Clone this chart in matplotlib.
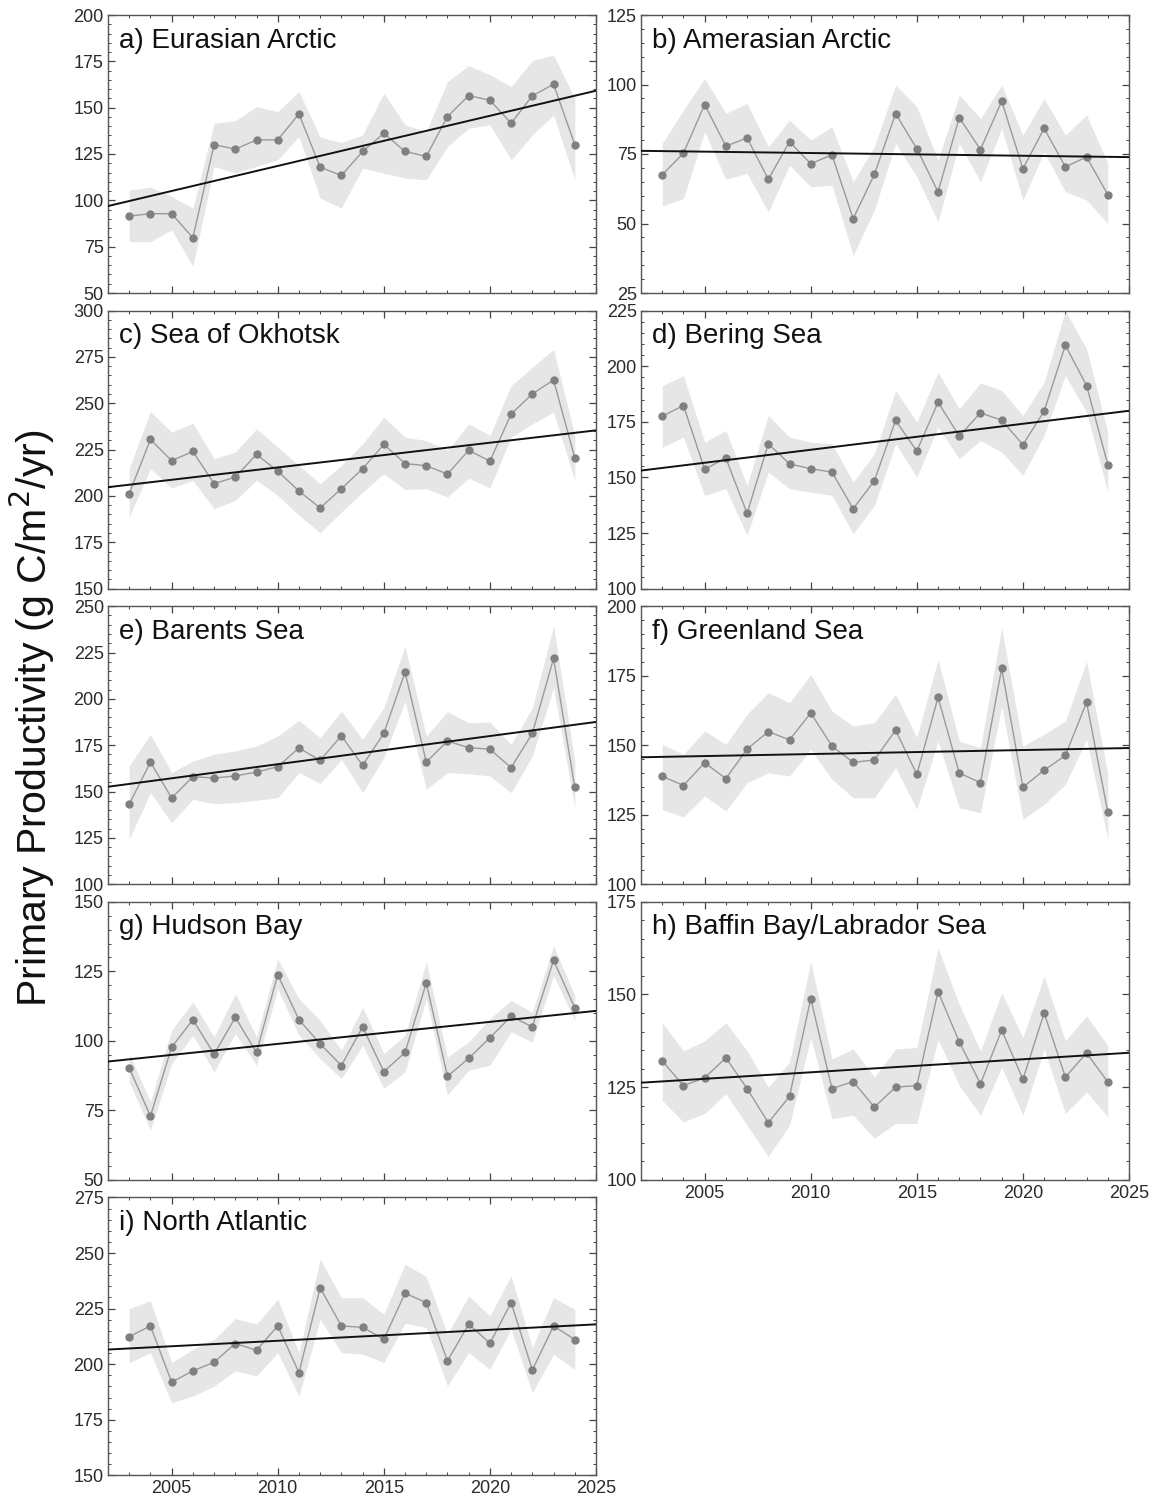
import numpy as np
import matplotlib
matplotlib.use('Agg')
import matplotlib.pyplot as plt
from matplotlib.ticker import MultipleLocator

plt.rcParams['font.family'] = ['Liberation Sans', 'DejaVu Sans']

years = [2003, 2004, 2005, 2006, 2007, 2008, 2009, 2010, 2011, 2012, 2013,
         2014, 2015, 2016, 2017, 2018, 2019, 2020, 2021, 2022, 2023, 2024]

# a) Eurasian Arctic
eur_pp = [91.5, 92.8, 92.8, 79.8, 130.1, 127.6, 132.6, 132.6, 146.6, 117.9, 113.4,
          126.4, 136.1, 126.4, 123.7, 145.2, 156.5, 154.0, 141.6, 156.4, 162.6, 130.1]
eur_hi = [105.5, 107.1, 102.1, 95.8, 141.6, 143.0, 150.6, 147.9, 158.7, 134.1, 131.2,
          135.3, 157.8, 140.7, 137.1, 164.1, 172.7, 167.7, 161.4, 175.4, 178.4, 155.1]
eur_lo = [77.7, 77.7, 84.1, 64.4, 118.3, 114.7, 118.3, 121.9, 134.4, 101.2, 95.8,
          117.4, 114.7, 112.0, 111.1, 129.0, 138.9, 140.7, 121.9, 135.3, 146.1, 111.1]

# b) Amerasian Arctic
ame_pp = [67.5, 75.3, 92.8, 77.8, 80.8, 65.9, 79.4, 71.5, 74.7, 51.7, 67.7,
          89.5, 76.9, 61.4, 88.1, 76.6, 94.0, 69.7, 84.2, 70.4, 73.9, 60.4]
ame_hi = [78.8, 90.8, 102.2, 89.6, 93.2, 77.6, 87.2, 80.0, 84.8, 65.0, 77.6,
          99.8, 92.0, 72.8, 96.2, 87.8, 99.8, 81.8, 95.0, 81.8, 89.0, 71.6]
ame_lo = [56.3, 59.0, 83.0, 65.9, 68.0, 54.2, 71.0, 63.2, 63.8, 38.6, 54.8,
          78.8, 66.8, 50.6, 78.8, 65.0, 84.2, 58.4, 75.8, 61.4, 58.4, 50.0]

# c) Sea of Okhotsk
okh_pp = [201.2, 230.5, 219.0, 224.0, 206.6, 210.2, 222.4, 213.4, 202.6, 193.5, 203.9,
          214.7, 227.8, 217.5, 216.3, 211.8, 224.6, 218.8, 244.1, 255.1, 262.5, 220.6]
okh_hi = [214.7, 245.6, 234.4, 239.3, 220.1, 223.7, 236.2, 226.4, 216.5, 206.6, 216.5,
          228.1, 242.5, 231.7, 229.9, 224.6, 238.9, 232.6, 259.6, 269.5, 279.0, 232.6]
okh_lo = [188.6, 214.7, 204.3, 208.4, 193.1, 197.6, 208.4, 200.3, 189.5, 180.2, 191.3,
          202.1, 212.0, 203.4, 203.9, 199.4, 209.6, 204.4, 231.7, 238.9, 245.2, 208.4]

# d) Bering Sea
ber_pp = [177.5, 182.3, 153.6, 158.7, 133.8, 165.1, 156.1, 153.9, 152.4, 135.9, 148.5,
          175.6, 161.8, 183.8, 168.6, 179.0, 175.7, 164.7, 179.8, 209.4, 191.3, 155.8]
ber_hi = [191.3, 195.8, 165.9, 171.1, 146.4, 177.8, 168.1, 165.9, 165.1, 147.9, 160.6,
          189.1, 174.9, 197.3, 180.8, 192.5, 189.1, 177.8, 192.8, 225.0, 207.8, 170.4]
ber_lo = [163.6, 168.1, 141.9, 144.9, 124.0, 152.4, 144.9, 143.4, 141.9, 124.7, 137.4,
          165.1, 150.1, 172.6, 158.4, 166.6, 161.4, 150.9, 168.9, 195.8, 179.3, 143.4]

# e) Barents Sea
bar_pp = [143.1, 165.9, 146.5, 158.0, 157.3, 158.4, 160.5, 163.4, 173.5, 166.8, 180.1,
          164.1, 181.4, 214.4, 165.9, 177.2, 173.7, 172.8, 162.9, 181.4, 221.8, 152.3]
bar_hi = [163.8, 180.8, 160.2, 166.5, 170.1, 171.9, 174.6, 179.9, 188.4, 179.0, 193.4,
          178.1, 195.2, 228.4, 179.9, 193.1, 187.1, 187.5, 175.5, 195.2, 239.2, 166.5]
bar_lo = [124.3, 149.4, 133.2, 145.8, 143.5, 144.0, 145.3, 146.7, 160.2, 154.3, 167.4,
          149.4, 168.3, 198.8, 151.2, 160.2, 159.6, 158.4, 149.4, 169.2, 206.0, 141.3]

# f) Greenland Sea
gre_pp = [138.8, 135.5, 143.7, 138.0, 148.6, 154.9, 151.9, 161.6, 149.7, 143.8, 144.7,
          155.4, 139.5, 167.2, 140.0, 136.5, 177.6, 134.9, 141.0, 146.3, 165.4, 126.0]
gre_hi = [150.3, 146.7, 155.1, 150.3, 161.1, 168.9, 165.3, 175.4, 162.3, 156.9, 158.1,
          168.3, 152.7, 180.8, 151.5, 149.1, 192.2, 149.7, 153.9, 158.7, 180.2, 139.5]
gre_lo = [126.9, 124.2, 131.7, 126.3, 136.5, 140.1, 138.9, 148.5, 137.7, 131.1, 131.1,
          141.9, 126.9, 151.5, 127.5, 125.7, 164.1, 123.4, 128.7, 135.9, 152.1, 116.2]

# g) Hudson Bay
hud_pp = [90.3, 72.9, 97.7, 107.6, 95.2, 108.4, 95.8, 123.8, 107.6, 98.9, 91.1,
          105.0, 88.9, 95.8, 120.8, 87.2, 93.7, 101.1, 108.8, 105.0, 129.0, 111.9]
hud_hi = [95.4, 78.1, 103.8, 113.9, 101.4, 116.9, 101.4, 129.4, 115.1, 107.3, 96.6,
          112.1, 95.4, 102.0, 128.3, 94.2, 99.6, 107.9, 114.5, 110.3, 134.2, 116.3]
hud_lo = [85.2, 67.9, 91.8, 102.0, 88.8, 102.6, 91.2, 118.7, 102.0, 93.6, 86.4,
          98.4, 82.9, 88.8, 115.1, 80.5, 89.4, 91.2, 103.2, 99.6, 123.5, 107.3]

# h) Baffin Bay/Labrador Sea
baf_pp = [132.1, 125.4, 127.5, 132.9, 124.6, 115.4, 122.5, 148.9, 124.6, 126.5, 119.6,
          125.0, 125.4, 150.8, 137.2, 125.9, 140.4, 127.1, 145.0, 127.7, 134.2, 126.4]
baf_hi = [142.4, 134.8, 137.5, 142.4, 134.8, 125.0, 131.7, 158.9, 132.6, 135.3, 127.7,
          135.3, 135.7, 162.5, 147.3, 134.8, 150.4, 138.4, 154.9, 137.5, 144.2, 136.2]
baf_lo = [121.4, 115.6, 117.9, 123.2, 114.7, 106.3, 114.7, 138.4, 116.5, 117.4, 111.2,
          115.2, 115.2, 137.9, 125.4, 117.4, 130.4, 117.4, 135.3, 117.9, 123.7, 117.0]

# i) North Atlantic
nat_pp = [212.4, 217.2, 191.9, 197.0, 200.9, 209.3, 206.3, 217.2, 196.2, 234.3, 217.2,
          216.6, 211.2, 231.9, 227.7, 201.5, 218.0, 209.4, 227.7, 197.4, 217.2, 211.1]
nat_hi = [225.0, 228.5, 200.7, 206.7, 211.2, 220.5, 218.0, 229.2, 205.2, 247.2, 229.9,
          229.9, 222.5, 245.0, 239.4, 213.5, 230.7, 221.7, 239.7, 207.5, 230.0, 224.7]
nat_lo = [200.7, 205.2, 182.7, 185.7, 190.2, 197.0, 194.7, 205.2, 185.7, 220.2, 205.2,
          204.5, 200.7, 218.4, 216.5, 190.2, 205.2, 197.7, 215.7, 187.2, 204.5, 197.7]

titles = ['a) Eurasian Arctic', 'b) Amerasian Arctic', 'c) Sea of Okhotsk',
          'd) Bering Sea', 'e) Barents Sea', 'f) Greenland Sea',
          'g) Hudson Bay', 'h) Baffin Bay/Labrador Sea', 'i) North Atlantic']
ylims = [(50, 200), (25, 125), (150, 300), (100, 225), (100, 250),
         (100, 200), (50, 150), (100, 175), (150, 275)]
series = [(eur_pp, eur_lo, eur_hi), (ame_pp, ame_lo, ame_hi), (okh_pp, okh_lo, okh_hi),
          (ber_pp, ber_lo, ber_hi), (bar_pp, bar_lo, bar_hi), (gre_pp, gre_lo, gre_hi),
          (hud_pp, hud_lo, hud_hi), (baf_pp, baf_lo, baf_hi), (nat_pp, nat_lo, nat_hi)]

fig = plt.figure(figsize=(11.52, 15), dpi=100)
W, H = 1152, 1500
col_x = [108, 641]
ax_w, ax_h = 488, 278
row_step = 295.6

for k in range(9):
    row, col = k // 2, k % 2
    top = 15 + row_step * row
    ax = fig.add_axes([col_x[col] / W, 1 - (top + ax_h) / H, ax_w / W, ax_h / H])
    pp, lo, hi = series[k]
    x = np.array(years)

    ax.fill_between(x, lo, hi, color='#e6e6e6', lw=0, zorder=1)
    ax.plot(x, pp, '-', color='#9a9a9a', lw=1.0, zorder=2)
    ax.plot(x, pp, 'o', color='#808080', ms=6, mew=0, zorder=3)

    # linear trend
    slope, icpt = np.polyfit(x, pp, 1)
    xt = np.array([2002, 2025])
    ax.plot(xt, slope * xt + icpt, color='#111111', lw=1.4, zorder=4)

    ax.set_xlim(2002, 2025)
    ax.set_ylim(*ylims[k])
    ax.xaxis.set_major_locator(MultipleLocator(5))
    ax.xaxis.set_minor_locator(MultipleLocator(1))
    ax.yaxis.set_major_locator(MultipleLocator(25))
    ax.yaxis.set_minor_locator(MultipleLocator(5))
    ax.tick_params(which='both', direction='in', top=True, right=True,
                   colors='#444444', labelcolor='#2a2a2a', labelsize=13)
    ax.tick_params(which='major', length=5, width=0.9)
    ax.tick_params(which='minor', length=2.5, width=0.7)
    ax.tick_params(axis='y', pad=3)
    for s in ax.spines.values():
        s.set_color('#555555')
        s.set_linewidth(1.0)
    if k < 7:
        ax.set_xticklabels([])

    ax.text(0.022, 0.955, titles[k], transform=ax.transAxes, ha='left', va='top',
            fontsize=20, color='#111111')

fig.text(0.028, 0.521, 'Primary Productivity (g C/m$^2$/yr)', rotation=90,
         ha='center', va='center', fontsize=29.5, color='#111111')

fig.savefig('out.png', dpi=100)
